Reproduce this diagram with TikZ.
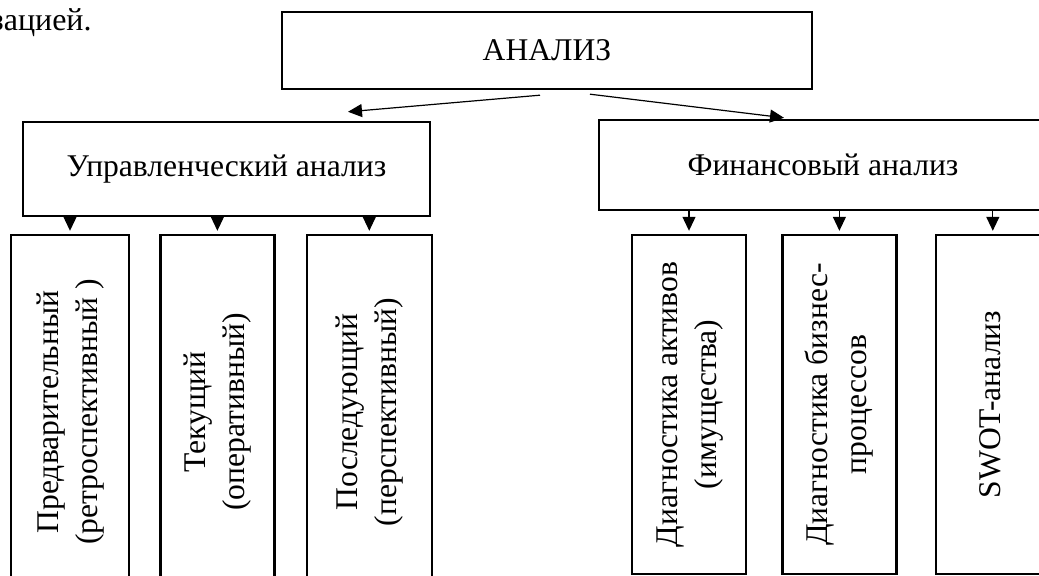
\documentclass[tikz,border=0pt]{standalone}
\usepackage{fontspec}
\setmainfont{Liberation Serif}
\usepackage{graphicx}
\usetikzlibrary{positioning,arrows.meta}

\newcommand{\vlab}[1]{\rotatebox{90}{\begin{tabular}{@{}c@{}}#1\end{tabular}}}

\begin{document}
\begin{tikzpicture}[x=0.5pt,y=-0.5pt,
    box/.style={draw,line width=1.2pt,inner sep=0pt,font=\fontsize{15.8}{19.5}\selectfont},
    leaf/.style={box,minimum width=57pt,minimum height=177pt},
    arr/.style={-{Triangle[length=7pt,width=6.5pt]},line width=0.6pt}]
        \clip (0,0) rectangle (1039,576);
        %text above
        \node[anchor=base east,inner sep=0pt,font=\fontsize{16}{19}\selectfont] (tail) at (92,31) {зацией.};

        %nodes
        \begin{scope}[every node/.style={box}]
            \node[minimum width=265pt,minimum height=38.5pt] (top) at (547,50.5) {АНАЛИЗ};
            \node[minimum width=203.5pt,minimum height=47pt] (mgmt) at (226.5,169) {Управленческий анализ};
            \node[minimum width=224pt,minimum height=45pt] (fin) at (823,165) {Финансовый анализ};
        \end{scope}

        %left branch
        \node[leaf,minimum width=59pt] (b1) at (70,412) {\vlab{Предварительный\\(ретроспективный )}};
        \node[leaf,right=14.5pt of b1] (b2) {\vlab{Текущий\\(оперативный)}};
        \node[leaf,right=15pt of b2,minimum width=62.5pt] (b3) {\vlab{Последующий\\(перспективный)}};

        %right branch
        \node[leaf,minimum height=169.5pt] (b4) at (689,404.5) {\vlab{Диагностика активов\\(имущества)}};
        \node[leaf,minimum height=169.5pt,right=17pt of b4] (b5) {\vlab{Диагностика бизнес-\\процессов}};
        \node[leaf,minimum height=169.5pt,right=18.5pt of b5] (b6) {\vlab{SWOT-анализ}};

        %arrows
        \draw[arr] ([xshift=-3.5pt,yshift=-2.5pt]top.south) -- ([xshift=60.75pt,yshift=4.5pt]mgmt.north);
        \draw[arr] ([xshift=21.5pt,yshift=-2pt]top.south) -- ([xshift=-19.5pt,yshift=0.5pt]fin.north);
        \foreach \b in {b1,b2,b3}
            \draw[arr] (\b.north |- mgmt.south) -- ([yshift=1.5pt]\b.north);
        \foreach \b in {b4,b5,b6}
            \draw[arr] (\b.north |- fin.south) -- ([yshift=1.5pt]\b.north);
\end{tikzpicture}
\end{document}
